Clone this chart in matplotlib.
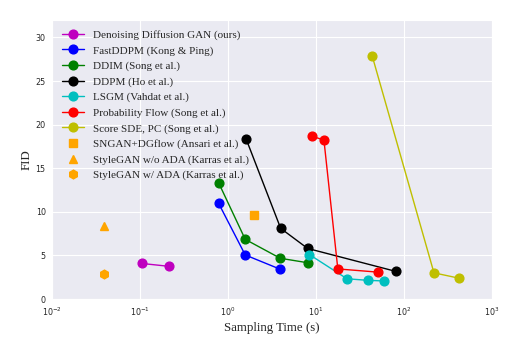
import matplotlib
matplotlib.use("Agg")
import matplotlib.pyplot as plt
import seaborn as sns

sns.set_style("darkgrid")

# sampling time (s) and FID for each method
ddgan_t = [0.104, 0.212]
ddgan_fid = [4.08, 3.75]
fastddpm_t = [0.78, 1.57, 3.93]
fastddpm_fid = [11.0, 5.05, 3.41]
ddim_t = [0.78, 1.57, 3.93, 8.03]
ddim_fid = [13.36, 6.84, 4.67, 4.16]
ddpm_t = [1.6, 3.97, 8.03, 80.5]
ddpm_fid = [18.4, 8.1, 5.8, 3.17]
lsgm_t = [8.4, 22.5, 39.0, 58.7]
lsgm_fid = [5.1, 2.32, 2.14, 2.07]
pflow_t = [9.0, 12.3, 17.7, 50.7]
pflow_fid = [18.65, 18.25, 3.45, 3.08]
sde_t = [43.6, 219.0, 425.0]
sde_fid = [27.85, 3.0, 2.38]
sngan_t, sngan_fid = [1.98], [9.62]
stylegan_noada_t, stylegan_noada_fid = [0.039], [8.32]
stylegan_ada_t, stylegan_ada_fid = [0.039], [2.92]

fig = plt.figure(figsize=(5.18, 3.48), dpi=100)
ax = fig.add_axes([0.1004, 0.1408, 0.8494, 0.8017])

ms = 6.3
ax.plot(ddgan_t, ddgan_fid, "o-", color="m", ms=ms, lw=1, label="Denoising Diffusion GAN (ours)")
ax.plot(fastddpm_t, fastddpm_fid, "o-", color="b", ms=ms, lw=1, label="FastDDPM (Kong & Ping)")
ax.plot(ddim_t, ddim_fid, "o-", color="g", ms=ms, lw=1, label="DDIM (Song et al.)")
ax.plot(ddpm_t, ddpm_fid, "o-", color="k", ms=ms, lw=1, label="DDPM (Ho et al.)")
ax.plot(lsgm_t, lsgm_fid, "o-", color="c", ms=ms, lw=1, label="LSGM (Vahdat et al.)")
ax.plot(pflow_t, pflow_fid, "o-", color="r", ms=ms, lw=1, label="Probability Flow (Song et al.)")
ax.plot(sde_t, sde_fid, "o-", color="y", ms=ms, lw=1, label="Score SDE, PC (Song et al.)")
ax.plot(sngan_t, sngan_fid, "s", color="orange", ms=ms, label="SNGAN+DGflow (Ansari et al.)")
ax.plot(stylegan_noada_t, stylegan_noada_fid, "^", color="orange", ms=ms, label="StyleGAN w/o ADA (Karras et al.)")
ax.plot(stylegan_ada_t, stylegan_ada_fid, "h", color="orange", ms=ms, label="StyleGAN w/ ADA (Karras et al.)")

ax.set_xscale("log")
ax.set_xlim(1e-2, 1e3)
ax.set_ylim(0, 32)
ax.set_yticks([0, 5, 10, 15, 20, 25, 30])
ax.minorticks_off()
ax.tick_params(labelsize=5.8, pad=1)
ax.set_xlabel("Sampling Time (s)", family="Liberation Serif", fontsize=9.3, labelpad=3)
ax.set_ylabel("FID", family="Liberation Serif", fontsize=9.3, labelpad=2)

ax.legend(loc="upper left", frameon=False, prop={"family": "Liberation Serif", "size": 8},
          labelspacing=0.5, borderaxespad=0.5)

plt.savefig("out.png")
